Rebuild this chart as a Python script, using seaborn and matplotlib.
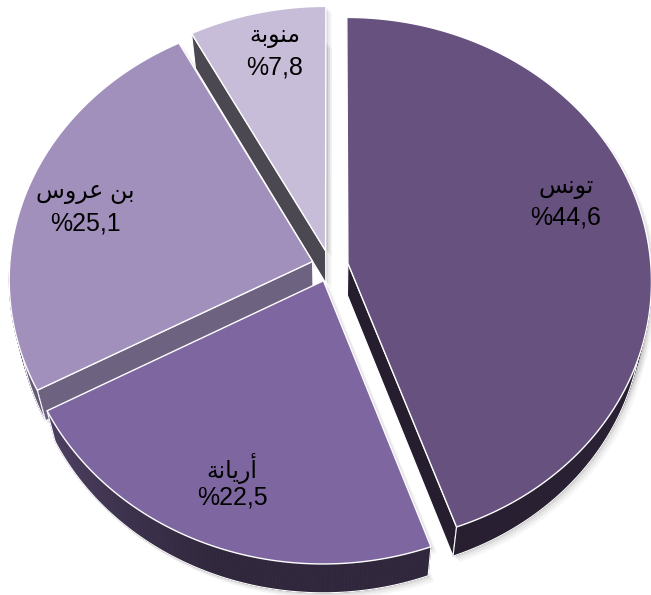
import numpy as np
import matplotlib
matplotlib.use("Agg")
import matplotlib.pyplot as plt
from matplotlib.patches import Polygon
import seaborn as sns

# ---- data -------------------------------------------------------------
regions = ["تونس", "أريانة", "بن عروس", "منوبة"]
shares = [44.6, 22.5, 25.1, 7.8]
top_colors = ["#66517F", "#7E67A0", "#A18FBC", "#C8BDD8"]

# ---- style ------------------------------------------------------------
sns.set_theme(style="white")
plt.rcParams["font.family"] = ["Liberation Sans", "DejaVu Sans"]
palette = sns.color_palette(top_colors)

# ---- minimal Arabic shaping (presentation forms, visual order) --------
FORMS = {
    "\u0628": ("\uFE8F", "\uFE90", "\uFE91", "\uFE92"),  # ba
    "\u062A": ("\uFE95", "\uFE96", "\uFE97", "\uFE98"),  # ta
    "\u0629": ("\uFE93", "\uFE94", None, None),          # ta marbuta
    "\u0646": ("\uFEE5", "\uFEE6", "\uFEE7", "\uFEE8"),  # nun
    "\u0633": ("\uFEB1", "\uFEB2", "\uFEB3", "\uFEB4"),  # sin
    "\u064A": ("\uFEF1", "\uFEF2", "\uFEF3", "\uFEF4"),  # ya
    "\u0639": ("\uFEC9", "\uFECA", "\uFECB", "\uFECC"),  # ain
    "\u0645": ("\uFEE1", "\uFEE2", "\uFEE3", "\uFEE4"),  # mim
    "\u0648": ("\uFEED", "\uFEEE", None, None),          # waw
    "\u0623": ("\uFE83", "\uFE84", None, None),          # alef hamza
    "\u0631": ("\uFEAD", "\uFEAE", None, None),          # ra
    "\u0627": ("\uFE8D", "\uFE8E", None, None),          # alef
}


def shape_arabic(word):
    chars = list(word)
    out = []
    for i, c in enumerate(chars):
        forms = FORMS.get(c)
        if forms is None:
            out.append(c)
            continue
        prev = chars[i - 1] if i > 0 else None
        nxt = chars[i + 1] if i + 1 < len(chars) else None
        join_prev = prev in FORMS and FORMS[prev][2] is not None
        join_next = forms[2] is not None and nxt in FORMS
        if join_prev and join_next:
            g = forms[3]
        elif join_prev:
            g = forms[1]
        elif join_next:
            g = forms[2]
        else:
            g = forms[0]
        out.append(g)
    return "".join(reversed(out))


# ---- 3D pie geometry --------------------------------------------------
CX, CY = 330.0, 266.0      # projected centre
RX, RY = 303.0, 262.5      # radii of the top ellipse
PERSP = 0.066              # near side drawn slightly larger
EXPLODE = 0.06             # slice offset, fraction of radius
T0, T1 = 32.0, -3.0        # wall height
LEAN = 0.028               # vertical edges converge toward the centre


def project(u, v, bottom=False):
    s = 1.0 / (1.0 - PERSP * v)
    x = CX + RX * u * s
    y = CY + RY * v * s
    if bottom:
        x = x + (CX - x) * LEAN
        y = y + (T0 + T1 * v)
    return x, y


def circ(theta_deg):
    t = np.radians(theta_deg)
    return np.sin(t), -np.cos(t)


def wall_shade(theta):
    return np.interp(theta, [90, 160, 200, 240, 270], [0.42, 0.38, 0.38, 0.60, 0.78])


def face_shade(phi):
    return float(np.interp(phi % 360, [150, 245], [0.69, 0.37]))


def darker(rgb, f):
    return tuple(np.clip(np.array(rgb) * f, 0, 1))


fig = plt.figure(figsize=(6.51, 5.95), dpi=100)
ax = fig.add_axes([0, 0, 1, 1])
ax.set_xlim(0, 651)
ax.set_ylim(595, 0)
ax.axis("off")

fracs = np.array(shares) / np.sum(shares)
bounds = np.concatenate([[0], np.cumsum(fracs) * 360])

slices = []
for i in range(len(shares)):
    a0, a1 = bounds[i], bounds[i + 1]
    mid = 0.5 * (a0 + a1)
    bu, bv = circ(mid)
    slices.append(dict(i=i, a0=a0, a1=a1, mid=mid,
                       ou=EXPLODE * bu, ov=EXPLODE * bv))


def rim(sl, theta, bottom=False):
    u, v = circ(theta)
    return project(sl["ou"] + u, sl["ov"] + v, bottom)


def apex(sl, bottom=False):
    return project(sl["ou"], sl["ov"], bottom)


def top_poly(sl, bottom=False):
    th = np.linspace(sl["a0"], sl["a1"], 200)
    pts = [apex(sl, bottom)] + [rim(sl, t, bottom) for t in th]
    return np.array(pts)


# soft drop shadow
for sl in slices:
    for d, a in [(2, 0.10), (4, 0.07), (6, 0.05)]:
        for bottom in (False, True):
            p = top_poly(sl, bottom) + np.array([d, d])
            ax.add_patch(Polygon(p, closed=True, facecolor="#555555",
                                 edgecolor="none", alpha=a, zorder=1))

# back-to-front drawing order
order = sorted(slices, key=lambda s: circ(s["mid"])[1])
for sl in order:
    base = palette[sl["i"]]
    z = 10 + 3 * order.index(sl)

    # radial faces that turn toward the viewer
    for edge, phi in ((sl["a0"], sl["a0"] - 90), (sl["a1"], sl["a1"] + 90)):
        if -np.cos(np.radians(phi)) > 1e-3:
            p = np.array([apex(sl), rim(sl, edge), rim(sl, edge, True), apex(sl, True)])
            ax.add_patch(Polygon(p, closed=True, facecolor=darker(base, face_shade(phi)),
                                 edgecolor="white", lw=0.8, zorder=z))

    # outer wall on the near half of the rim
    lo, hi = max(sl["a0"], 90.0), min(sl["a1"], 270.0)
    if hi > lo:
        th = np.linspace(lo, hi, 120)
        for t0, t1 in zip(th[:-1], th[1:]):
            q = np.array([rim(sl, t0), rim(sl, t1), rim(sl, t1, True), rim(sl, t0, True)])
            col = darker(base, wall_shade(0.5 * (t0 + t1)))
            ax.add_patch(Polygon(q, closed=True, facecolor=col, edgecolor=col,
                                 lw=0.6, zorder=z + 0.5))
        bot = np.array([rim(sl, t, True) for t in th])
        ax.plot(bot[:, 0], bot[:, 1], color="white", lw=0.8, zorder=z + 0.6)
        for t in (lo, hi):
            e = np.array([rim(sl, t), rim(sl, t, True)])
            ax.plot(e[:, 0], e[:, 1], color="white", lw=0.8, zorder=z + 0.6)

    # top surface
    ax.add_patch(Polygon(top_poly(sl), closed=True, facecolor=base,
                         edgecolor="white", lw=1.0, zorder=z + 1))

# ---- labels -----------------------------------------------------------
label_pos = [(566, 203), (232, 483), (85, 208), (275, 52)]
for name, val, (lx, ly) in zip(regions, shares, label_pos):
    pct = "%" + f"{val:.1f}".replace(".", ",")
    ax.text(lx, ly - 15, shape_arabic(name), ha="center", va="center",
            fontsize=17, color="black", zorder=50)
    ax.text(lx, ly + 15, pct, ha="center", va="center",
            fontsize=18, color="black", zorder=50)

fig.savefig("out.png", dpi=100)
